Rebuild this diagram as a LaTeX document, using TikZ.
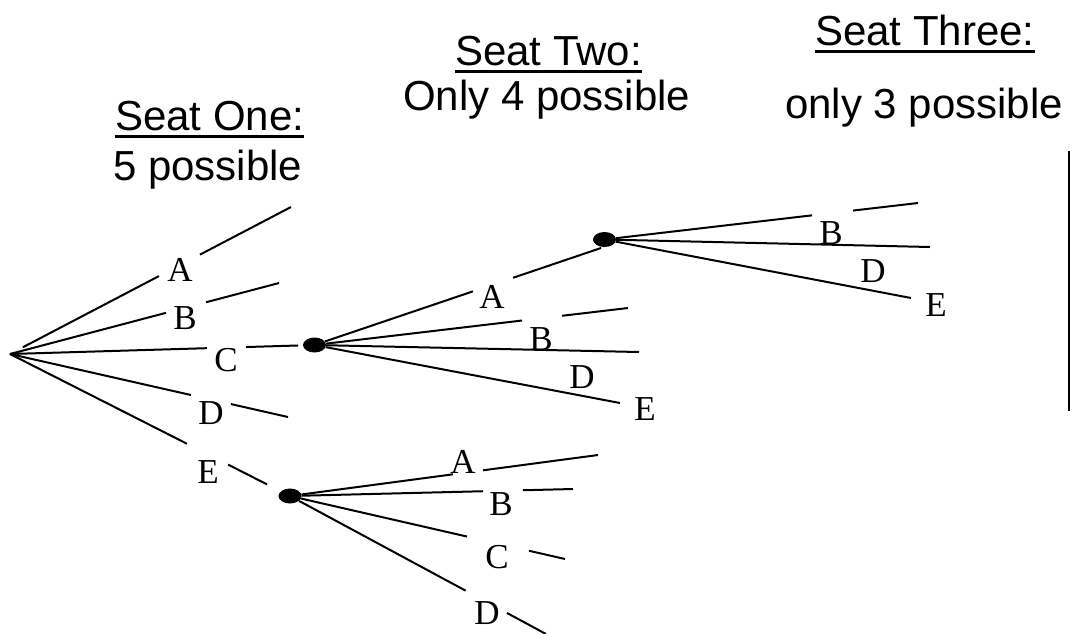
\documentclass[tikz,border=0pt]{standalone}
\usepackage{fontspec}
\setmainfont{Liberation Serif}
\newfontfamily\hdfont{Liberation Sans}
\usetikzlibrary{calc,shapes.geometric,backgrounds}
\newcommand{\hdul}[1]{\setbox0\hbox{#1}\rlap{\rule[-7.5pt]{\wd0}{3pt}}\box0}
\begin{document}
\begin{tikzpicture}[x=1pt,y=-1pt,
  branch/.style={line width=2pt, line cap=butt},
  dot/.style={ellipse, fill=black, minimum width=23pt, minimum height=15pt, inner sep=0pt},
  lbl/.style={font=\fontsize{35}{40}\selectfont, inner sep=0pt},
  hd/.style={font=\hdfont\fontsize{42}{48}\selectfont, inner sep=0pt, anchor=base west}]
\useasboundingbox (0,0) rectangle (1071,633);

% headers
\node[hd] (h1) at (115,130) {\hdul{Seat One:}};
\node[hd] (h1b) at (113,180) {5 possible};
\node[hd] (h2) at (455,65) {\hdul{Seat Two:}};
\node[hd] (h2b) at (403,110) {Only 4 possible};
\node[hd] (h3) at (815,45) {\hdul{Seat Three:}};
\node[hd] (h3b) at (785,118) {only 3 possible};

% tree points
\coordinate (R) at (10,354);
\node[dot] (Cdot) at (314.5,345) {};
\node[dot] (Adot) at (604.5,239.5) {};
\node[dot] (Edot) at (290,496) {};

\coordinate (R-A) at (291,207);
\coordinate (R-B) at (279,283);
\coordinate (R-D) at (288,417);
\coordinate (C-A) at (601,248);
\coordinate (C-B) at (628,308);
\coordinate (C-D) at (639,352);
\coordinate (C-E) at (620,403);
\coordinate (A-B) at (918,203);
\coordinate (A-D) at (930,247);
\coordinate (A-E) at (911,298);
\coordinate (E-A) at (598,455);
\coordinate (E-B) at (573,489);
\coordinate (E-C) at (565,559);
\coordinate (E-D) at (546,634);
\coordinate (vt) at (1069,151);
\coordinate (vb) at (1069,411);

% labels
\node[lbl] (l1A) at (180,270) {A};
\node[lbl] (l1B) at (185,318) {B};
\node[lbl] (l1C) at (226,360) {C};
\node[lbl] (l1D) at (211,413) {D};
\node[lbl] (l1E) at (208,472) {E};
\node[lbl] (l2A) at (492,297) {A};
\node[lbl] (l2B) at (541,339) {B};
\node[lbl] (l2D) at (582,377) {D};
\node[lbl] (l2E) at (645,409) {E};
\node[lbl] (l3B) at (831,233) {B};
\node[lbl] (l3D) at (873,271) {D};
\node[lbl] (l3E) at (936,305) {E};
\node[lbl] (l4A) at (463,462) {A};
\node[lbl] (l4B) at (501,504) {B};
\node[lbl] (l4C) at (497,557) {C};
\node[lbl] (l4D) at (487,613) {D};

\begin{scope}[on background layer]
\fill[white] (0,0) rectangle (1071,633);
\begin{scope}[branch]
% seat one
\draw ($(R)!0.046!(R-A)$) -- ($(R)!0.53!(R-A)$);
\draw ($(R)!0.676!(R-A)$) -- (R-A);
\draw (R) -- ($(R)!0.58!(R-B)$);
\draw ($(R)!0.729!(R-B)$) -- (R-B);
\draw (R) -- ($(R)!0.647!(Cdot)$);
\draw ($(R)!0.775!(Cdot)$) -- ($(R)!0.946!(Cdot)$);
\draw (R) -- ($(R)!0.651!(R-D)$);
\draw ($(R)!0.795!(R-D)$) -- (R-D);
\draw (R) -- ($(R)!0.632!(Edot)$);
\draw ($(R)!0.779!(Edot)$) -- ($(R)!0.918!(Edot)$);
% seat two after C
\draw (Cdot) -- ($(Cdot)!0.553!(C-A)$);
\draw ($(Cdot)!0.693!(C-A)$) -- (C-A);
\draw (Cdot) -- ($(Cdot)!0.662!(C-B)$);
\draw ($(Cdot)!0.79!(C-B)$) -- (C-B);
\draw (Cdot) -- (C-D);
\draw (Cdot) -- (C-E);
% seat three after C, A
\draw (Adot) -- ($(Adot)!0.662!(A-B)$);
\draw ($(Adot)!0.793!(A-B)$) -- (A-B);
\draw (Adot) -- (A-D);
\draw (Adot) -- (A-E);
% seat two after E
\draw (Edot) -- ($(Edot)!0.529!(E-A)$);
\draw ($(Edot)!0.627!(E-A)$) -- (E-A);
\draw (Edot) -- ($(Edot)!0.682!(E-B)$);
\draw ($(Edot)!0.823!(E-B)$) -- (E-B);
\draw (Edot) -- ($(Edot)!0.644!(E-C)$);
\draw ($(Edot)!0.869!(E-C)$) -- (E-C);
\draw (Edot) -- ($(Edot)!0.686!(E-D)$);
\draw ($(Edot)!0.847!(E-D)$) -- (E-D);
% right edge line
\draw (vt) -- (vb);
\end{scope}
\end{scope}
\end{tikzpicture}
\end{document}
